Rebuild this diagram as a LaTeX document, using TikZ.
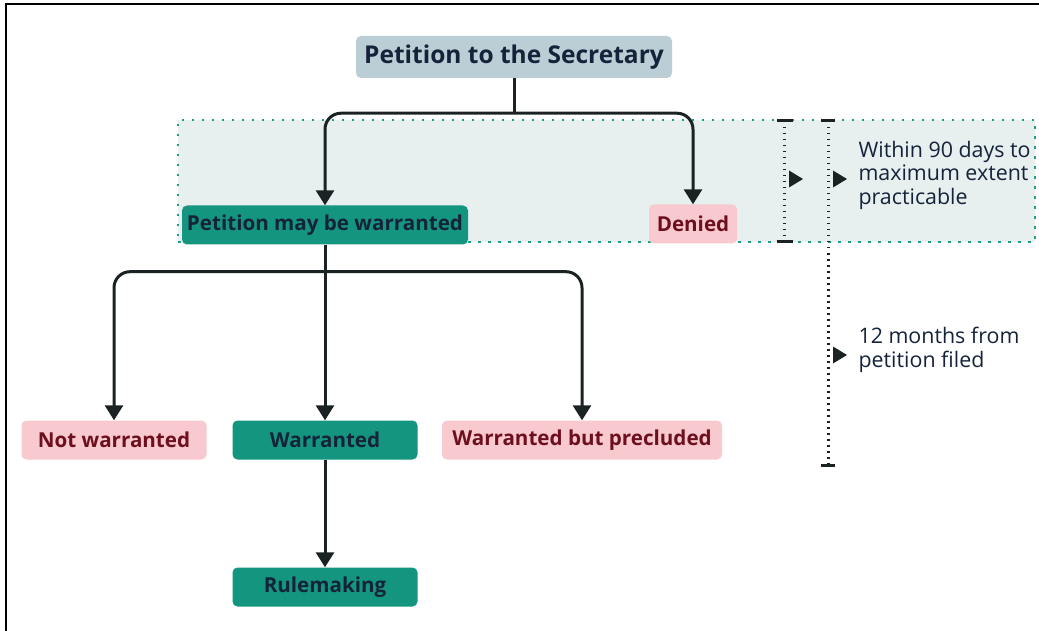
\documentclass[tikz,border=0pt]{standalone}
\usepackage{fontspec}
\setmainfont{Open Sans}
\usetikzlibrary{arrows.meta, positioning, calc}

\definecolor{titlefill}{HTML}{BBCED5}
\definecolor{tealfill}{HTML}{14957F}
\definecolor{pinkfill}{HTML}{F8C9CF}
\definecolor{navytxt}{HTML}{15233A}
\definecolor{redtxt}{HTML}{6E0F1E}
\definecolor{zonefill}{HTML}{E7EFEF}
\definecolor{zoneline}{HTML}{1E9C8C}
\definecolor{linecol}{HTML}{1B2224}

\begin{document}
\begin{tikzpicture}[
    x=1pt, y=-1pt,
    >={Triangle[length=15pt, width=18pt]},
    box/.style={
        rounded corners=5pt, inner sep=0pt, minimum height=39pt,
        font=\fontsize{20.6}{24}\selectfont\bfseries, text=navytxt
    },
    titlenode/.style={box, fill=titlefill, minimum width=316pt, minimum height=42pt,
        font=\fontsize{24.5}{28}\selectfont\bfseries},
    greennode/.style={box, fill=tealfill},
    pinknode/.style={box, fill=pinkfill, text=redtxt},
    line/.style={draw=linecol, line width=3pt},
    arr/.style={line, ->, rounded corners=16pt},
    span/.style={draw=linecol, line width=3pt, dash pattern=on 1.5pt off 4.5pt},
    spanend/.style={line},
    pointer/.style={fill=linecol},
    note/.style={font=\fontsize{21.4}{23.5}\selectfont, text=navytxt, align=left, anchor=west},
]
\useasboundingbox (0,0) rectangle (1039,631);

% frame (top and left edges only)
\draw[line width=2pt] (6,631) -- (6,4) -- (1039,4);

% ================================================================
%  90-DAY ZONE
% ================================================================
\node[fill=zonefill, draw=zoneline, line width=2.5pt, dash pattern=on 2.5pt off 7.5pt,
      minimum width=857pt, minimum height=122pt, inner sep=0pt] (zone) at (606.5,181) {};

% ================================================================
%  NODES
% ================================================================
\node[titlenode] (sec) at (514, 57) {Petition to the Secretary};

\node[greennode, minimum width=286pt] (maybe)  at (325, 225) {Petition may be warranted};
\node[pinknode,  minimum width=88pt]  (denied) at (693, 224) {Denied};

\node[pinknode,  minimum width=185pt] (notw) at (114, 440) {Not warranted};
\node[greennode, minimum width=185pt] (warr) at (325, 440) {Warranted};
\node[pinknode,  minimum width=280pt] (wbp)  at (582, 440) {Warranted but precluded};

\node[greennode, minimum width=185pt] (rule) at (325, 587) {Rulemaking};

% ================================================================
%  CONNECTORS
% ================================================================
\coordinate (split1) at ($(sec.south)+(0,35)$);
\coordinate (split2) at ($(maybe.south)+(0,27)$);

\draw[line] (sec.south) -- (split1);
\draw[arr] (split1) -| (maybe.north);
\draw[arr] (split1) -| (denied.north);

\draw[arr] (split2) -| (notw.north);
\draw[arr] (maybe.south) -- (warr.north);
\draw[arr] (split2) -| (wbp.north);

\draw[arr] (warr.south) -- (rule.north);

% ================================================================
%  TIME SPANS
% ================================================================
\coordinate (s1top) at (784.5, 121);
\coordinate (s1bot) at (784.5, 242);
\coordinate (s2top) at (828, 121);
\coordinate (s2bot) at (828, 465);

\draw[span] (s1top) -- (s1bot);
\draw[span] (s2top) -- (s2bot);
\draw[spanend] ($(s1top)+(-8,0)$) -- ++(16,0);
\draw[spanend] ($(s1bot)+(-8,0)$) -- ++(16,0);
\draw[spanend] ($(s2top)+(-7,0)$) -- ++(14,0);
\draw[spanend] ($(s2bot)+(-7,0)$) -- ++(14,0);

\fill[pointer] (789, 170.5) -- ++(14, 8.5) -- ++(-14, 8.5) -- cycle;
\fill[pointer] (833, 170.5) -- ++(14, 8.5) -- ++(-14, 8.5) -- cycle;
\fill[pointer] (833, 346.5) -- ++(14, 8.5) -- ++(-14, 8.5) -- cycle;

\node[note] (days90) at (855, 175) {Within 90 days to\\maximum extent\\practicable};
\node[note] (months12) at (855, 350) {12 months from\\petition filed};

\end{tikzpicture}
\end{document}
